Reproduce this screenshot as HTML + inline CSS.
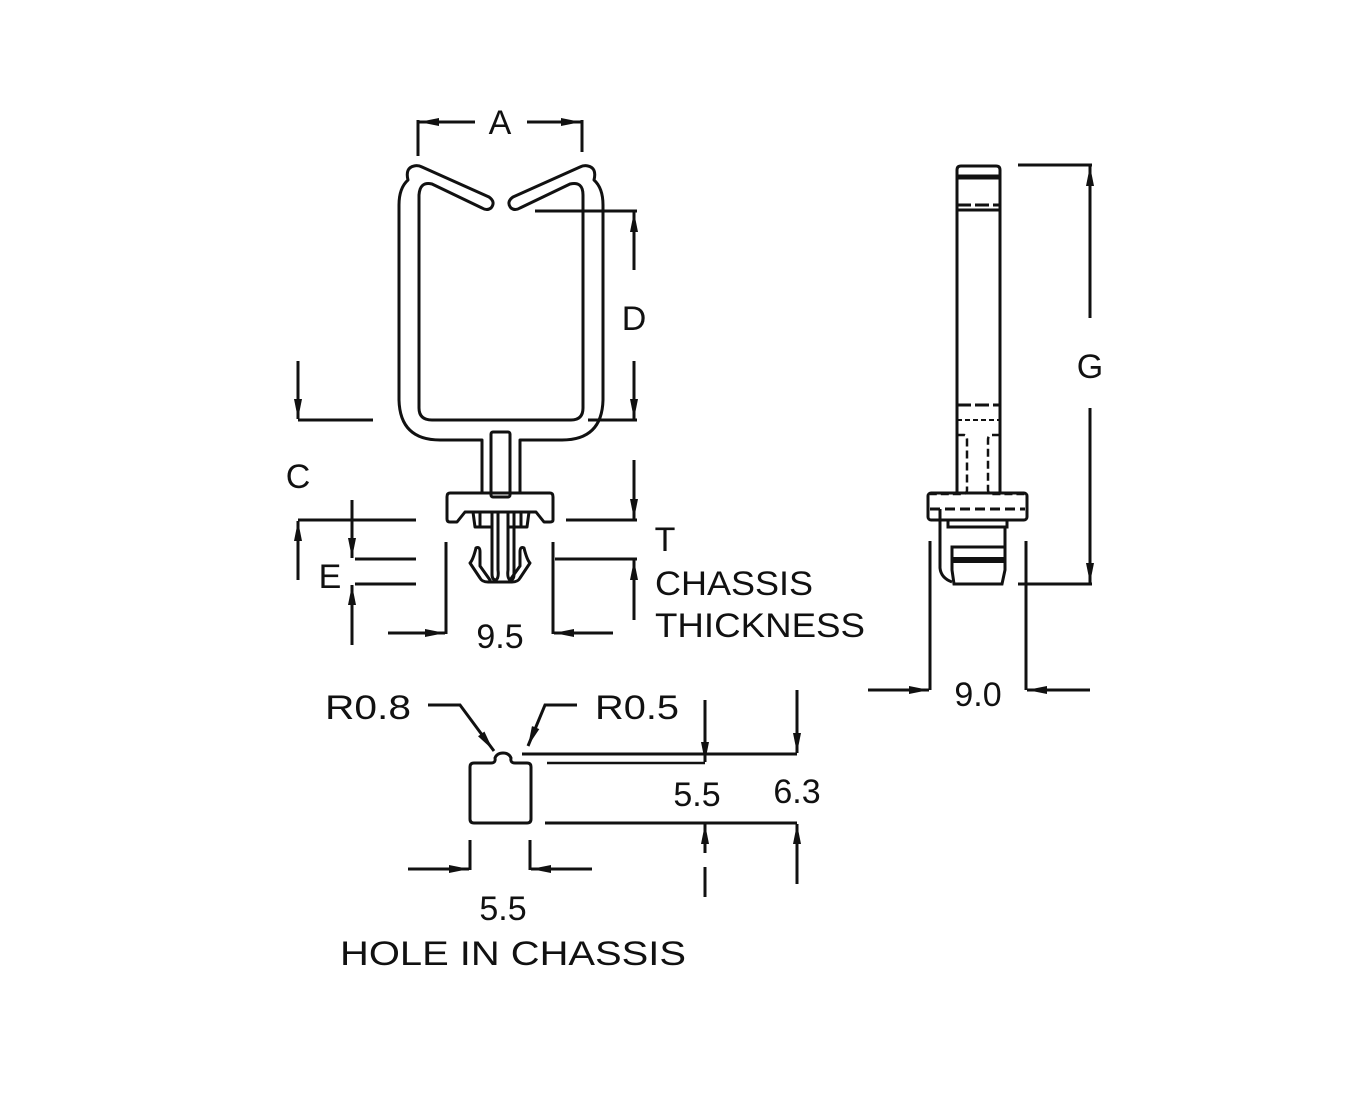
<!DOCTYPE html>
<html><head><style>
html,body{margin:0;padding:0;background:#fff;}
svg{display:block;}
text{font-family:"Liberation Sans",sans-serif;font-size:34px;fill:#111;}
</style></head><body>
<svg width="1367" height="1106" viewBox="0 0 1367 1106" xmlns="http://www.w3.org/2000/svg">
<defs>
<marker id="ar" viewBox="0 0 20 8" refX="20" refY="4" markerWidth="20" markerHeight="8" markerUnits="userSpaceOnUse" orient="auto">
<path d="M0,0 L20,4 L0,8 Z" fill="#111"/></marker>
</defs>
<g fill="none" stroke="#111" stroke-width="3" stroke-linejoin="round" stroke-linecap="round">
<!-- main clip contour -->
<path d="M482,493 L482,440 L440,440 Q400,440 399,400 L399,205 Q399,188 408,180 Q405,168 414,166 Q418,165 422,167 L489,197 Q496,202 491,208 Q487,211 482,208 L432,184 Q420,181 419,195 L419,408 Q419,420 432,420 L571,420 Q583,420 583,408 L583,195 Q583,181 570,184 L520,208 Q515,211 511,208 Q506,202 513,197 L580,167 Q584,165 588,166 Q597,168 594,180 Q603,188 603,205 L603,400 Q602,440 562,440 L520,440 L520,493"/>
<rect x="491" y="432" width="19" height="65" rx="2"/>
<!-- flange -->
<path d="M450,493 L550,493 Q553,493 553,497 L553,520 Q553,522 550,522 L544,522 L536,512 L465,512 L457,522 L450,522 Q447,522 447,519 L447,497 Q447,493 450,493 Z"/>
<path d="M473,512 L475,527 L492,527 M508,527 L527,527 L529,512 M480,512 L480,527 M521,512 L521,527"/>
<path d="M492,512 L492,574 Q492,580 496,580 Q499,578 498,570 L498,512 M508,512 L508,570 Q507,578 510,580 Q514,580 514,574 L514,512"/>
<path d="M476,548 Q473,560 470,563 L480,578 Q482,582 488,582 L512,582 Q518,582 520,578 L530,563 Q527,560 524,548 Q520,546 520,552 L520,566 L510,580 M476,548 Q480,546 480,552 L480,566 L490,580"/>
</g>
<g fill="none" stroke="#111" stroke-width="3">
<!-- A -->
<line x1="418" y1="120" x2="418" y2="156"/><line x1="582" y1="120" x2="582" y2="152"/>
<line x1="475" y1="122" x2="419" y2="122" marker-end="url(#ar)"/>
<line x1="527" y1="122" x2="581" y2="122" marker-end="url(#ar)"/>
<!-- D -->
<line x1="535" y1="211" x2="637" y2="211"/><line x1="588" y1="420" x2="637" y2="420"/>
<line x1="634" y1="270" x2="634" y2="212" marker-end="url(#ar)"/>
<line x1="634" y1="361" x2="634" y2="419" marker-end="url(#ar)"/>
<line x1="634" y1="460" x2="634" y2="519" marker-end="url(#ar)"/>
<line x1="566" y1="520" x2="637" y2="520"/>
<!-- C -->
<line x1="298" y1="420" x2="373" y2="420"/>
<line x1="298" y1="361" x2="298" y2="419" marker-end="url(#ar)"/>
<line x1="298" y1="520" x2="416" y2="520"/>
<line x1="298" y1="580" x2="298" y2="521" marker-end="url(#ar)"/>
<!-- E -->
<line x1="355" y1="559" x2="416" y2="559"/><line x1="355" y1="584" x2="416" y2="584"/>
<line x1="352" y1="500" x2="352" y2="558" marker-end="url(#ar)"/>
<line x1="352" y1="645" x2="352" y2="585" marker-end="url(#ar)"/>
<!-- T -->
<line x1="555" y1="559" x2="637" y2="559"/>
<line x1="634" y1="620" x2="634" y2="560" marker-end="url(#ar)"/>
<!-- 9.5 -->
<line x1="446" y1="542" x2="446" y2="634"/><line x1="553" y1="542" x2="553" y2="634"/>
<line x1="388" y1="633" x2="445" y2="633" marker-end="url(#ar)"/>
<line x1="613" y1="633" x2="554" y2="633" marker-end="url(#ar)"/>
</g>
<text x="500" y="134" text-anchor="middle">A</text>
<text x="634" y="330" text-anchor="middle">D</text>
<text x="298" y="488" text-anchor="middle">C</text>
<text x="330" y="588" text-anchor="middle">E</text>
<text x="665" y="551" text-anchor="middle">T</text>
<text x="655" y="595" textLength="158" lengthAdjust="spacingAndGlyphs">CHASSIS</text>
<text x="655" y="637" textLength="210" lengthAdjust="spacingAndGlyphs">THICKNESS</text>
<text x="500" y="648" text-anchor="middle">9.5</text>

<!-- side view -->
<g fill="none" stroke="#111" stroke-width="3">
<path d="M957,493 L957,170 Q957,166 961,166 L996,166 Q1000,166 1000,170 L1000,493"/>
<line x1="957" y1="177" x2="1000" y2="177" stroke-width="5"/>
<line x1="957" y1="205" x2="1000" y2="205" stroke-dasharray="14,4"/>
<line x1="957" y1="210" x2="1000" y2="210" stroke-width="3"/>
<line x1="957" y1="405" x2="1000" y2="405" stroke-dasharray="14,4"/>
<line x1="957" y1="420" x2="1000" y2="420" stroke-dasharray="5,3" stroke-width="2"/>
<path d="M957,435 L964,435 Q967,435 967,440 L967,490 Q967,494 962,494 L930,494" stroke-dasharray="8,4" stroke-width="2.5"/>
<path d="M1000,435 L992,435 Q988,435 988,440 L988,490 Q988,494 993,494 L1025,494" stroke-dasharray="8,4" stroke-width="2.5"/>
<rect x="928" y="493" width="99" height="27" rx="3"/>
<line x1="930" y1="509" x2="1025" y2="509" stroke-dasharray="10,5"/>
<path d="M940,509 L940,568 Q941,578 952,582"/>
<path d="M948,520 L948,527 L1007,527 L1007,520"/>
<path d="M952,547 L1005,547 L1005,570 L1002,584 L954,584 L952,570 Z"/>
<line x1="952" y1="560" x2="1005" y2="560" stroke-width="6"/>
<line x1="1005" y1="527" x2="1005" y2="547"/>
<!-- G -->
<line x1="1018" y1="165" x2="1092" y2="165"/><line x1="1018" y1="584" x2="1092" y2="584"/>
<line x1="1090" y1="318" x2="1090" y2="166" marker-end="url(#ar)"/>
<line x1="1090" y1="408" x2="1090" y2="583" marker-end="url(#ar)"/>
<!-- 9.0 -->
<line x1="930" y1="541" x2="930" y2="690"/><line x1="1026" y1="541" x2="1026" y2="690"/>
<line x1="868" y1="690" x2="929" y2="690" marker-end="url(#ar)"/>
<line x1="1090" y1="690" x2="1027" y2="690" marker-end="url(#ar)"/>
</g>
<text x="1090" y="378" text-anchor="middle">G</text>
<text x="978" y="706" text-anchor="middle">9.0</text>

<!-- hole -->
<g fill="none" stroke="#111" stroke-width="3">
<path d="M474,763 L491,763 Q496,763 495,758 Q497,753 503,753 Q509,753 511,758 Q510,763 515,763 L527,763 Q531,763 531,767 L531,819 Q531,823 527,823 L474,823 Q470,823 470,819 L470,767 Q470,763 474,763 Z"/>
<line x1="522" y1="754" x2="797" y2="754"/>
<line x1="547" y1="763" x2="705" y2="763" stroke-width="2.5"/>
<line x1="545" y1="823" x2="797" y2="823"/>
<path d="M428,705 L460,705 L494,751"/>
<polyline points="460,705 493,750" marker-end="url(#ar)" stroke-width="0.1"/>
<path d="M577,705 L545,705 L528,746"/>
<polyline points="545,705 528,746" marker-end="url(#ar)" stroke-width="0.1"/>
<line x1="705" y1="700" x2="705" y2="762" marker-end="url(#ar)"/>
<line x1="705" y1="853" x2="705" y2="824" marker-end="url(#ar)"/>
<line x1="705" y1="867" x2="705" y2="897"/>
<line x1="797" y1="690" x2="797" y2="753" marker-end="url(#ar)"/>
<line x1="797" y1="884" x2="797" y2="824" marker-end="url(#ar)"/>
<line x1="470" y1="840" x2="470" y2="870"/><line x1="530" y1="840" x2="530" y2="870"/>
<line x1="408" y1="869" x2="469" y2="869" marker-end="url(#ar)"/>
<line x1="592" y1="869" x2="531" y2="869" marker-end="url(#ar)"/>
</g>
<text x="325" y="719" textLength="86" lengthAdjust="spacingAndGlyphs">R0.8</text>
<text x="595" y="719" textLength="84" lengthAdjust="spacingAndGlyphs">R0.5</text>
<text x="697" y="806" text-anchor="middle">5.5</text>
<text x="797" y="803" text-anchor="middle">6.3</text>
<text x="503" y="920" text-anchor="middle">5.5</text>
<text x="340" y="965" textLength="346" lengthAdjust="spacingAndGlyphs">HOLE IN CHASSIS</text>
</svg>
</body></html>
